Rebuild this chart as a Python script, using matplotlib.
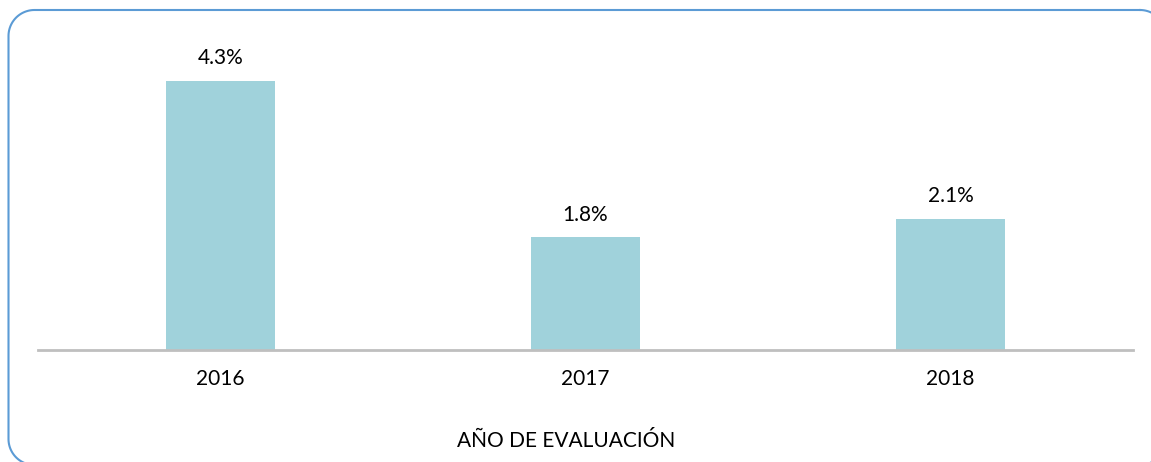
import matplotlib
matplotlib.use("Agg")
import matplotlib.pyplot as plt
import numpy as np

years = ["2016", "2017", "2018"]
rates = [4.3, 1.8, 2.1]
value_labels = ["4.3%", "1.8%", "2.1%"]
x_title = "AÑO DE EVALUACIÓN"

plt.rcParams["font.family"] = ["Lato", "DejaVu Sans"]

W, H = 1151, 462
fig = plt.figure(figsize=(W / 100, H / 100), dpi=100)

# rounded frame in pixel coordinates (y down), partly outside the canvas
bg = fig.add_axes([0, 0, 1, 1])
bg.axis("off")
left, right, top, bottom, r = 8.5, 1166, 10, 465, 26
xs, ys = [], []
for cx, cy, a0 in [(right - r, top + r, -90), (right - r, bottom - r, 0),
                   (left + r, bottom - r, 90), (left + r, top + r, 180)]:
    t = np.radians(np.linspace(a0, a0 + 90, 30))
    xs.extend(cx + r * np.cos(t))
    ys.extend(cy + r * np.sin(t))
xs.append(xs[0])
ys.append(ys[0])
bg.plot(xs, ys, color="#5B9BD5", linewidth=1.5, clip_on=False)
bg.set_xlim(0, W)
bg.set_ylim(H, 0)

ax = fig.add_axes([38 / W, 112 / H, 1095 / W, 313 / H])
ax.patch.set_alpha(0)
pos = range(len(years))
bars = ax.bar(pos, rates, width=0.3, color="#A0D2DB", zorder=2)
ax.set_xlim(-0.5, 2.5)
ax.set_ylim(0, 5.0)
for rect, lab in zip(bars, value_labels):
    ax.annotate(lab, (rect.get_x() + rect.get_width() / 2, rect.get_height()),
                xytext=(0, 9), textcoords="offset points",
                ha="center", va="bottom", fontsize=15)

for s in ["top", "right", "left"]:
    ax.spines[s].set_visible(False)
ax.spines["bottom"].set_color("#BFBFBF")
ax.spines["bottom"].set_linewidth(2)
ax.spines["bottom"].set_zorder(3)
ax.set_yticks([])
ax.set_xticks(list(pos))
ax.set_xticklabels(years, fontsize=15)
ax.tick_params(axis="x", length=0, pad=14)

fig.text(566 / W, 1 - 441 / H, x_title, ha="center", va="center", fontsize=15)

fig.savefig("out.png", dpi=100)
